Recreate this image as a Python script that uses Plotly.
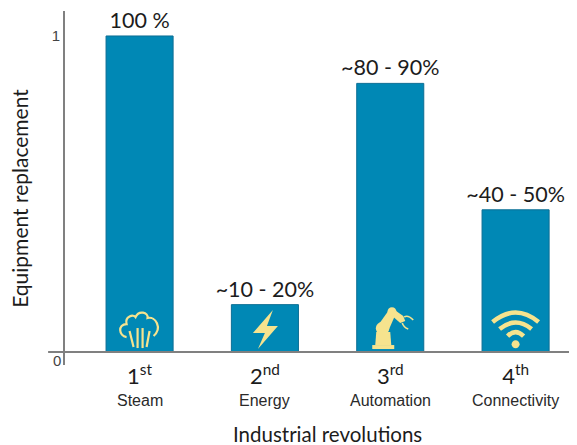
import plotly.graph_objects as go

categories = ["1<sup>st</sup>", "2<sup>nd</sup>", "3<sup>rd</sup>", "4<sup>th</sup>"]
subtitles = ["Steam", "Energy", "Automation", "Connectivity"]
values = [1.0, 0.15, 0.85, 0.45]
labels = ["100 %", "~10 - 20%", "~80 - 90%", "~40 - 50%"]
y_ticks = [1]

BAR = "#0088B5"
EDGE = "#0B6E94"
ICON = "#F6E38E"
AXIS = "#808080"
TEXT = "#1c1c1c"


def circle(cx, cy, r):
    return (f"M{cx-r},{cy} C{cx-r},{cy+r*.55} {cx-r*.55},{cy+r} {cx},{cy+r} "
            f"C{cx+r*.55},{cy+r} {cx+r},{cy+r*.55} {cx+r},{cy} "
            f"C{cx+r},{cy-r*.55} {cx+r*.55},{cy-r} {cx},{cy-r} "
            f"C{cx-r*.55},{cy-r} {cx-r},{cy-r*.55} {cx-r},{cy} Z")


icons = {
    0: [
        ("line", "M-13,15 C-21,16 -22,28 -13,28 C-15,36 -6,38 -4,35 C-1,42 9,40 8,34 C16,36 23,24 14,16", 2.2),
        ("line", "M-10,21 L-6,5", 2.2), ("line", "M-2,24 L-2,4", 2.2),
        ("line", "M3,24 L3,4", 2.2), ("line", "M10,21 L7,5", 2.2),
    ],
    1: [("fill", "M8,42 L-12,19 L0,19 L-7,3 L13,26 L2,26 Z", 0)],
    2: [
        ("fill", "M-18,3 L4,3 L4,7 L-18,7 Z", 0),
        ("fill", "M-15,7 L1,7 L0,20 L-14,20 Z", 0),
        ("fill", circle(-7.7, 23.7, 6.7), 0),
        ("fill", "M-12,27 L-2,41 L5,37 L-2,21 Z", 0),
        ("fill", circle(1.7, 40.3, 4.5), 0),
        ("fill", "M3,43 L13,36 L15,31 L10,29 L2,36 Z", 0),
        ("line", "M14,35 C17,37 20,35 23,32", 1.6),
        ("line", "M12,29 C13,26 15,24 18,23", 1.6),
    ],
    3: [
        ("line", "M-23,30 Q0,49 23,30", 4.5),
        ("line", "M-16,23 Q0,36 16,23", 4.5),
        ("line", "M-8,16 Q0,24 8,16", 4.5),
        ("fill", circle(0, 7.7, 4), 0),
    ],
}

fig = go.Figure(go.Bar(
    x=categories, y=values, width=0.535,
    marker=dict(color=BAR, line=dict(color=EDGE, width=1)),
    text=labels, textposition="outside", cliponaxis=False, constraintext="none",
    textangle=0,
    textfont=dict(family="Lato", size=21.5, color=TEXT),
))

shapes = [dict(type="line", xref="paper", yref="y", x0=-0.033, x1=1, y0=0, y1=0,
               line=dict(color=AXIS, width=2), layer="above")]
for i, parts in icons.items():
    for kind, path, w in parts:
        shapes.append(dict(
            type="path", xref="x", yref="y", xsizemode="pixel", ysizemode="pixel",
            xanchor=categories[i], yanchor=0, path=path,
            fillcolor=ICON if kind == "fill" else "rgba(0,0,0,0)",
            line=dict(color=ICON, width=w),
        ))

annotations = [dict(x=c, y=-0.099, xref="x", yref="paper", text=s, showarrow=False,
                    yanchor="middle",
                    font=dict(family="Liberation Sans", size=16, color="#2a2a2a"))
               for c, s in zip(categories, subtitles)]
annotations.append(dict(x=0, y=0, xref="paper", yref="y", text="0", showarrow=False,
                        xanchor="right", xshift=-2, yshift=-8,
                        font=dict(family="Liberation Sans", size=15, color="#444444")))
annotations.append(dict(x=0.512, y=-0.195, xref="paper", yref="paper", showarrow=False,
                        text="Industrial revolutions", yanchor="middle",
                        font=dict(family="Lato", size=20.5, color=TEXT)))
annotations.append(dict(x=-0.088, y=0.472, xref="paper", yref="paper", showarrow=False,
                        text="Equipment replacement", textangle=-90,
                        xanchor="center", yanchor="middle",
                        font=dict(family="Lato", size=21, color=TEXT)))

fig.update_layout(
    width=569, height=437, autosize=False, showlegend=False,
    margin=dict(l=57, r=0, t=3, b=80, autoexpand=False),
    plot_bgcolor="white", paper_bgcolor="white",
    shapes=shapes, annotations=annotations,
    xaxis=dict(range=[-0.595, 3.49], showgrid=False, zeroline=False, showline=False,
               ticks="", tickangle=0, automargin=False, ticklabelstandoff=-4,
               tickfont=dict(family="Lato", size=22, color=TEXT)),
    yaxis=dict(range=[-0.041, 1.079], tickvals=y_ticks, ticktext=["1"], showgrid=False,
               zeroline=False, showline=True, linecolor=AXIS, linewidth=2, ticks="",
               automargin=False,
               tickfont=dict(family="Liberation Sans", size=15, color="#444444")),
)
fig.write_html("out.html")
